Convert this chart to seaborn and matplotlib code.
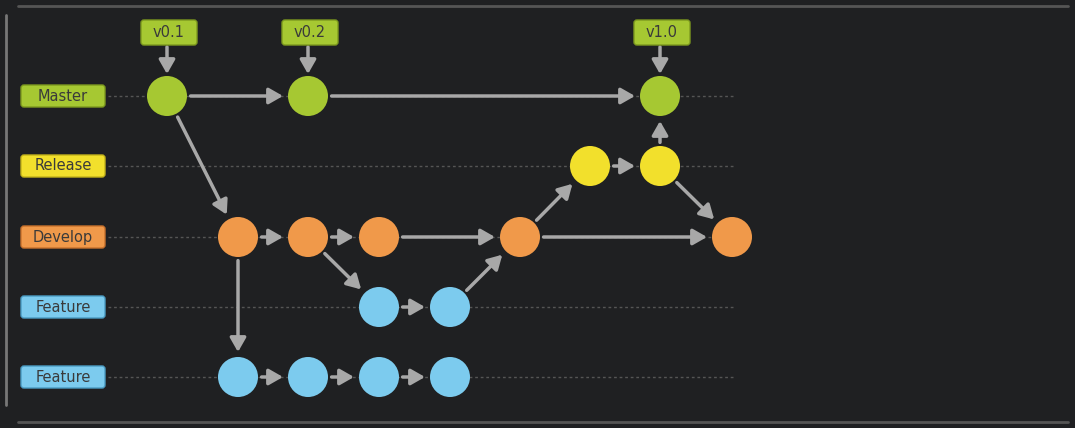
import matplotlib
matplotlib.use("Agg")
import matplotlib.pyplot as plt
from matplotlib.patches import FancyBboxPatch
import seaborn as sns
import pandas as pd

sns.set_theme(style="white")
plt.rcParams['font.family'] = ['DejaVu Sans']

lanes = ["Master", "Release", "Develop", "Feature", "Feature"]
lane_y = [96, 166, 237, 307, 377]
lane_colors = ["#a6c832", "#f2e02c", "#f0994a", "#7ccbee", "#7ccbee"]
lane_edges = ["#7d9a1e", "#c4b31a", "#c8712c", "#4a9cc4", "#4a9cc4"]

node_ids = ["m1", "m2", "m3", "r1", "r2", "d1", "d2", "d3", "d4", "d5", "f1", "f2", "g1", "g2", "g3", "g4"]
node_lane = [0, 0, 0, 1, 1, 2, 2, 2, 2, 2, 3, 3, 4, 4, 4, 4]
node_x = [167, 308, 660, 590, 660, 238, 308, 379, 520, 732, 379, 450, 238, 308, 379, 450]

edges = [("m1", "m2"), ("m2", "m3"), ("m1", "d1"), ("d1", "d2"), ("d2", "d3"), ("d3", "d4"),
         ("d4", "d5"), ("d2", "f1"), ("f1", "f2"), ("f2", "d4"), ("d4", "r1"), ("r1", "r2"),
         ("r2", "m3"), ("r2", "d5"), ("d1", "g1"), ("g1", "g2"), ("g2", "g3"), ("g3", "g4")]

tags = ["v0.1", "v0.2", "v1.0"]
tag_node = ["m1", "m2", "m3"]

bg = "#1f2022"
fig = plt.figure(figsize=(10.75, 4.28), dpi=100, facecolor=bg)
ax = fig.add_axes([0, 0, 1, 1])
ax.set_facecolor(bg)

ax.plot([18, 1068], [6, 6], color="#555555", lw=2)
ax.plot([18, 1068], [422, 422], color="#555555", lw=2)
ax.plot([6, 6], [15, 405], color="#777777", lw=2)

for name, y, c, ec in zip(lanes, lane_y, lane_colors, lane_edges):
    ax.plot([108, 735], [y, y], color="#555555", lw=1, ls=(0, (2, 2)), zorder=1)
    ax.add_patch(FancyBboxPatch((21, y - 11), 84, 22, boxstyle="round,pad=0,rounding_size=3",
                                fc=c, ec=ec, lw=1, zorder=3))
    ax.text(63, y, name, ha="center", va="center", fontsize=10.5, color="#3a3a3a", zorder=4)

pos = {n: (x, lane_y[l]) for n, l, x in zip(node_ids, node_lane, node_x)}

for a, b in edges:
    ax.annotate("", xy=pos[b], xytext=pos[a],
                arrowprops=dict(arrowstyle="-|>,head_length=0.7,head_width=0.4", color="#a8a8a8",
                                lw=2.5, shrinkA=17, shrinkB=18), zorder=2)

df = pd.DataFrame({"x": node_x, "y": [lane_y[l] for l in node_lane],
                   "lane": [str(l) for l in node_lane]})
palette = {str(i): c for i, c in enumerate(lane_colors)}
sns.scatterplot(data=df, x="x", y="y", hue="lane", palette=palette, s=830,
                edgecolor="none", legend=False, ax=ax, zorder=4)

for t, n in zip(tags, tag_node):
    x, y = pos[n]
    ax.add_patch(FancyBboxPatch((x - 26, 20), 56, 25, boxstyle="round,pad=0,rounding_size=3",
                                fc="#a6c832", ec="#7d9a1e", lw=1, zorder=3))
    ax.text(x + 2, 32.5, t, ha="center", va="center", fontsize=10.5, color="#3a3a3a", zorder=4)
    ax.annotate("", xy=(x, y - 22), xytext=(x, 47),
                arrowprops=dict(arrowstyle="-|>,head_length=0.7,head_width=0.4", color="#a8a8a8",
                                lw=2.5, shrinkA=0, shrinkB=0), zorder=2)

ax.set_xlim(0, 1075)
ax.set_ylim(428, 0)
ax.axis("off")
fig.savefig("out.png", dpi=100, facecolor=bg)
